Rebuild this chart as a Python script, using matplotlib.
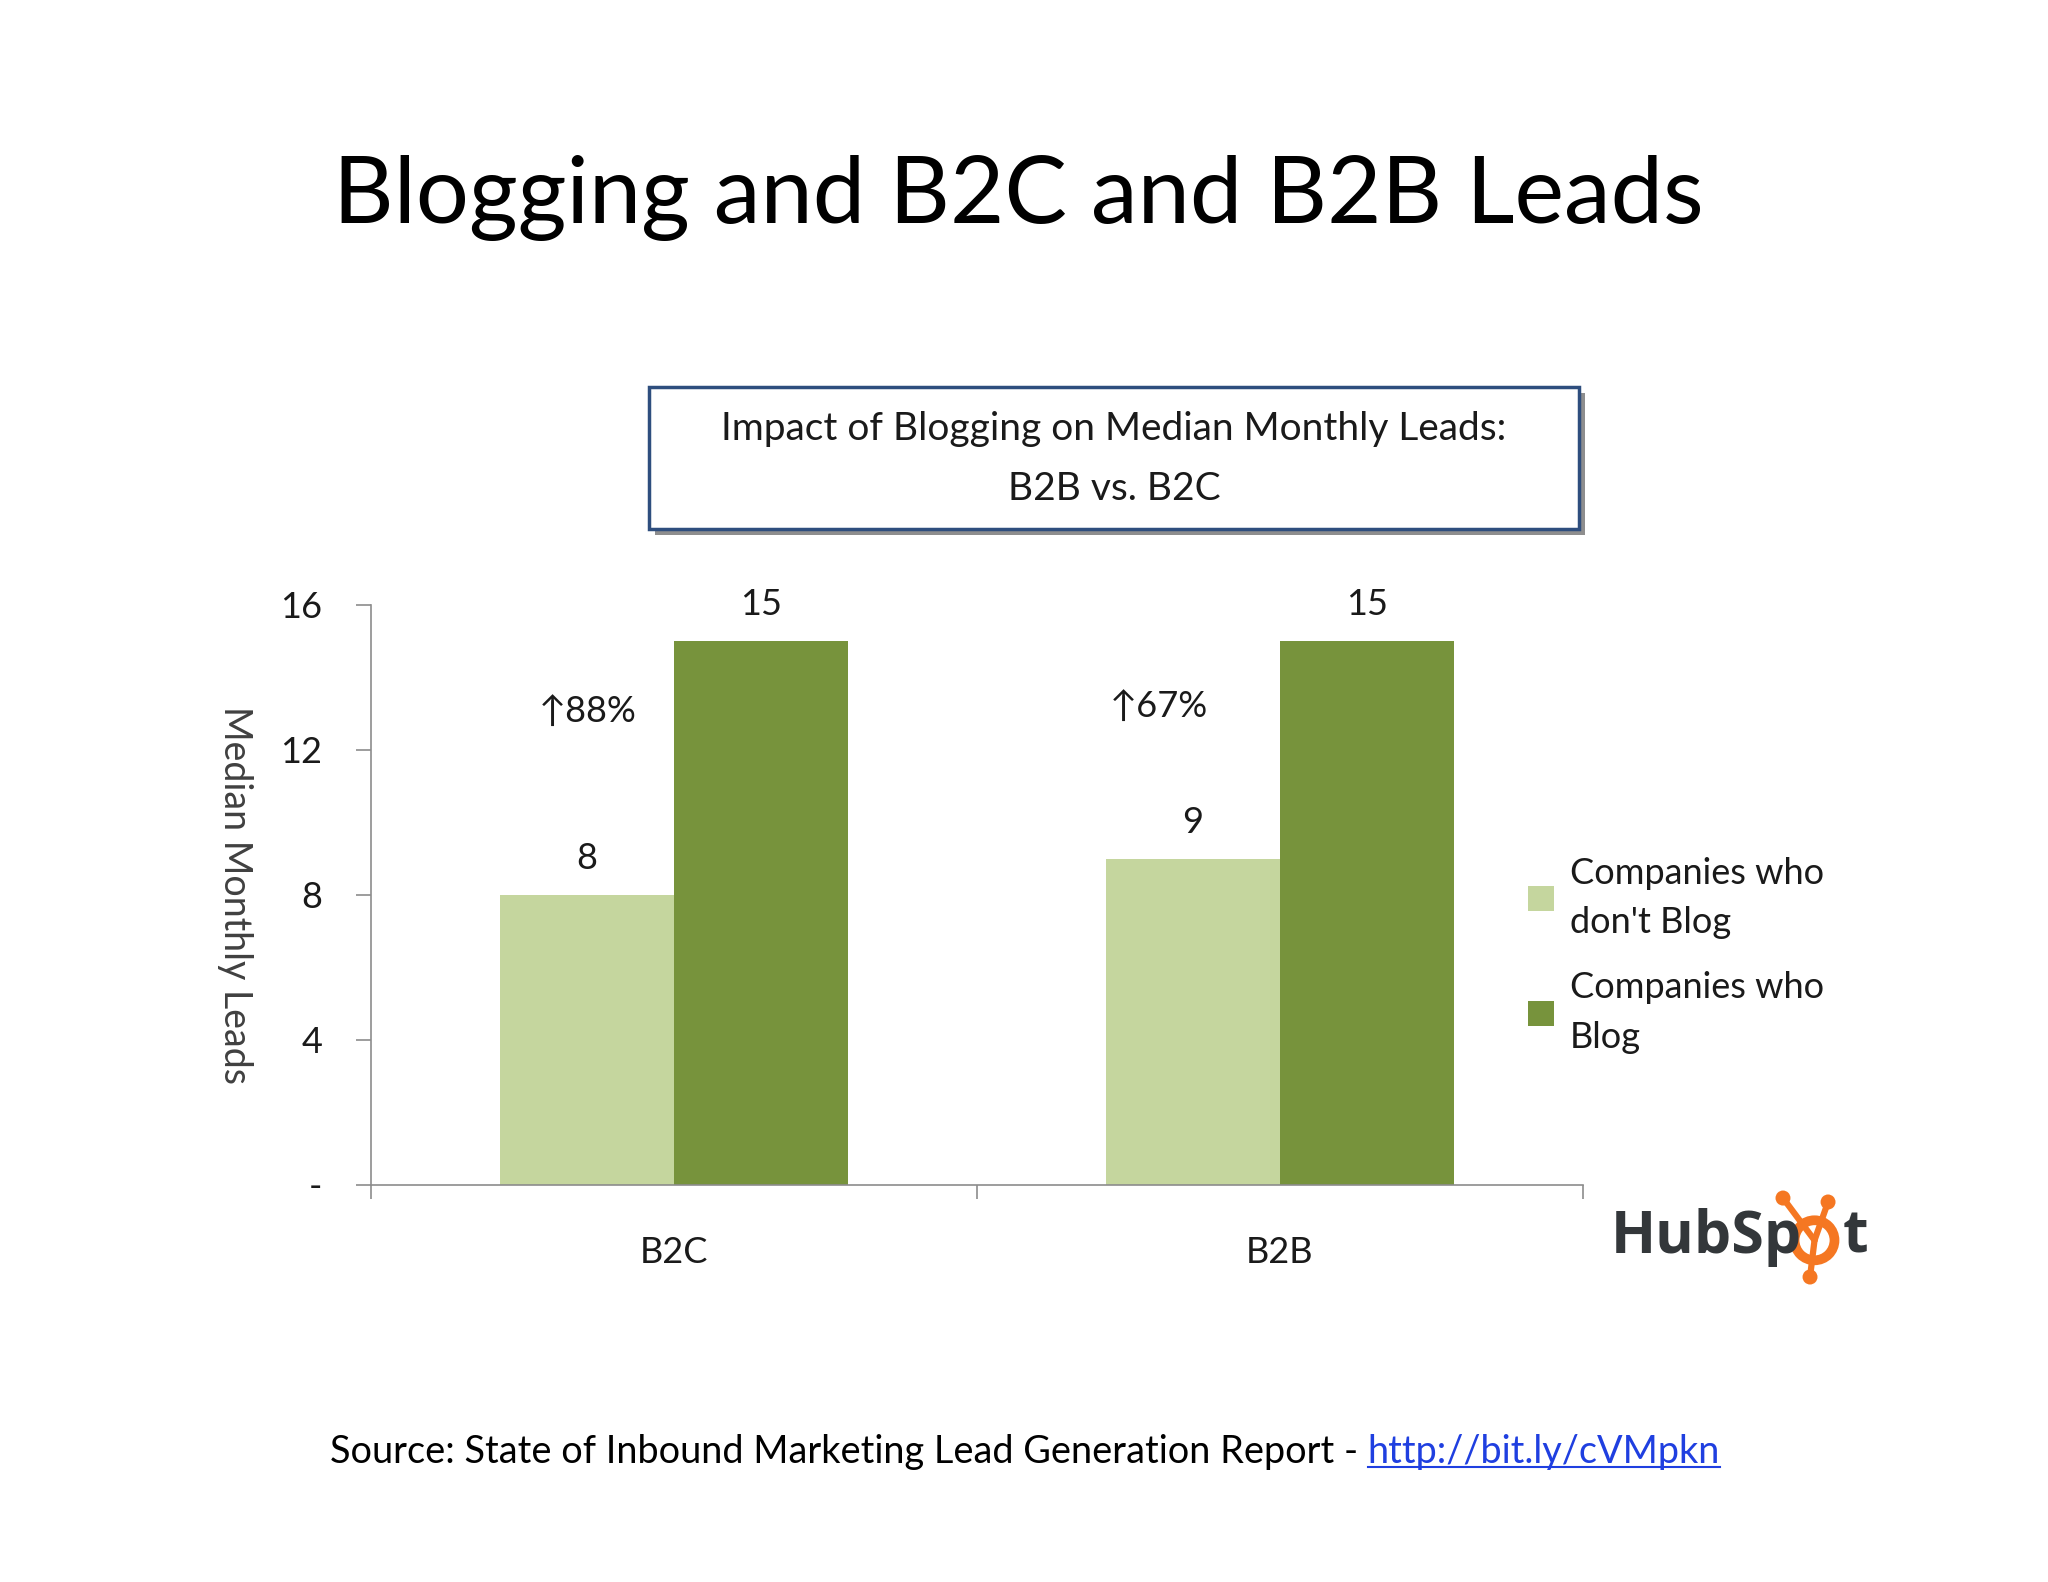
import matplotlib.pyplot as plt
import matplotlib.patches as mpatches
import numpy as np

# data
categories = ['B2C', 'B2B']
no_blog = [8, 9]
blog = [15, 15]
lift_labels = ['\u219188%', '\u219167%']
series_names = ["Companies who\ndon't Blog", "Companies who\nBlog"]
y_ticks = [0, 4, 8, 12, 16]
y_tick_labels = ['-', '4', '8', '12', '16']

LIGHT = '#C5D69E'
DARK = '#77933C'
AXIS_COL = '#8C8C8C'
TXT = '#1a1a1a'
ORANGE = '#F57722'
LOGO_DARK = '#33373A'

plt.rcParams['font.family'] = ['Lato', 'DejaVu Sans']

fig = plt.figure(figsize=(20.48, 15.82), dpi=100)
fig.patch.set_facecolor('white')

# slide title
fig.text(0.497, 0.875, 'Blogging and B2C and B2B Leads', ha='center', va='center',
         fontsize=67.5, color='black')

# chart title box with shadow
bx, by, bw, bh = 0.317, 0.6656, 0.454, 0.0898
fig.patches.append(mpatches.Rectangle((bx + 0.003, by - 0.004), bw, bh, transform=fig.transFigure,
                                      facecolor='#8E8E8E', edgecolor='none', zorder=1))
fig.patches.append(mpatches.Rectangle((bx, by), bw, bh, transform=fig.transFigure,
                                      facecolor='white', edgecolor='#2E4E7E', linewidth=2.5, zorder=2))
fig.text(bx + bw / 2, 0.729, 'Impact of Blogging on Median Monthly Leads:', ha='center', va='center',
         fontsize=28, color=TXT, zorder=3)
fig.text(bx + bw / 2, 0.691, 'B2B vs. B2C', ha='center', va='center',
         fontsize=28, color=TXT, zorder=3)

# axes
ax = fig.add_axes([0.181, 0.251, 0.592, 0.3666])
x = np.arange(len(categories))
w = 0.287
ax.bar(x - w / 2, no_blog, width=w, color=LIGHT, label=series_names[0], zorder=2)
ax.bar(x + w / 2, blog, width=w, color=DARK, label=series_names[1], zorder=2)

for i in range(len(categories)):
    ax.text(x[i] - w / 2, no_blog[i] + 0.55, str(no_blog[i]), ha='center', va='bottom',
            fontsize=26, color=TXT)
    ax.text(x[i] + w / 2, blog[i] + 0.55, str(blog[i]), ha='center', va='bottom',
            fontsize=26, color=TXT)

ax.text(x[0] - 0.142, 13.05, lift_labels[0], ha='center', va='center', fontsize=26, color=TXT)
ax.text(x[1] - 0.2, 13.2, lift_labels[1], ha='center', va='center', fontsize=26, color=TXT)

ax.set_xlim(-0.5, 1.5)
ax.set_ylim(0, 16)
ax.set_yticks(y_ticks)
ax.set_yticklabels(y_tick_labels)
ax.set_xticks([-0.5, 0.5, 1.5])
ax.set_xticklabels([])
ax.set_xticks(x, minor=True)
ax.set_xticklabels(categories, minor=True)
ax.tick_params(axis='x', which='minor', length=0, pad=37, labelsize=26, labelcolor=TXT)
ax.tick_params(axis='x', which='major', length=10, width=1.2, color=AXIS_COL, direction='out')
ax.tick_params(axis='y', length=11, width=1.2, color=AXIS_COL, pad=24, labelsize=26,
               labelcolor=TXT)
for s in ['top', 'right']:
    ax.spines[s].set_visible(False)
for s in ['left', 'bottom']:
    ax.spines[s].set_color(AXIS_COL)
    ax.spines[s].set_linewidth(1.2)
ax.set_ylabel('Median Monthly Leads', rotation=270, fontsize=27, color='#404040',
              va='center', ha='center')
ax.yaxis.set_label_coords(-0.112, 0.5)

leg = ax.legend(loc='upper left', bbox_to_anchor=(0.928, 0.622), frameon=False, fontsize=26,
                handlelength=0.7, handleheight=0.7, handletextpad=0.45, labelspacing=0.9,
                labelcolor=TXT)
for t in leg.get_texts():
    t.set_linespacing(1.6)

# HubSpot logo
fig.text(0.7865, 0.208, 'HubSp', ha='left', va='baseline', fontsize=42.5, fontweight='bold',
         color=LOGO_DARK, family=['Open Sans', 'DejaVu Sans'])
fig.text(0.8999, 0.208, 't', ha='left', va='baseline', fontsize=42.5, fontweight='bold',
         color=LOGO_DARK, family=['Open Sans', 'DejaVu Sans'])
cx, cy = 0.886, 0.216
balls = [(0.8706, 0.2427), (0.8926, 0.2402), (0.8838, 0.1928)]
for (ex, ey) in balls:
    fig.add_artist(plt.Line2D([cx, ex], [cy, ey], transform=fig.transFigure, color=ORANGE,
                              linewidth=4.5, solid_capstyle='round'))
    fig.patches.append(mpatches.Ellipse((ex, ey), 0.0073, 0.0095, transform=fig.transFigure,
                                        facecolor=ORANGE, edgecolor='none'))
fig.patches.append(mpatches.Ellipse((cx, cy), 0.0195, 0.0253, transform=fig.transFigure,
                                    facecolor='white', edgecolor=ORANGE, linewidth=7))

# source
src = fig.text(0.161, 0.082, 'Source: State of Inbound Marketing Lead Generation Report - ',
               ha='left', va='center', fontsize=27.3, color='black')
fig.canvas.draw()
bb = src.get_window_extent().transformed(fig.transFigure.inverted())
link = fig.text(bb.x1, 0.082, 'http://bit.ly/cVMpkn', ha='left', va='center', fontsize=27.3,
                color='#1F3FE0')
fig.canvas.draw()
lb = link.get_window_extent().transformed(fig.transFigure.inverted())
fig.add_artist(plt.Line2D([lb.x0, lb.x1], [lb.y0 + 0.002, lb.y0 + 0.002], transform=fig.transFigure,
                          color='#1F3FE0', linewidth=1.5))

fig.savefig('out.png', dpi=100, facecolor='white')
